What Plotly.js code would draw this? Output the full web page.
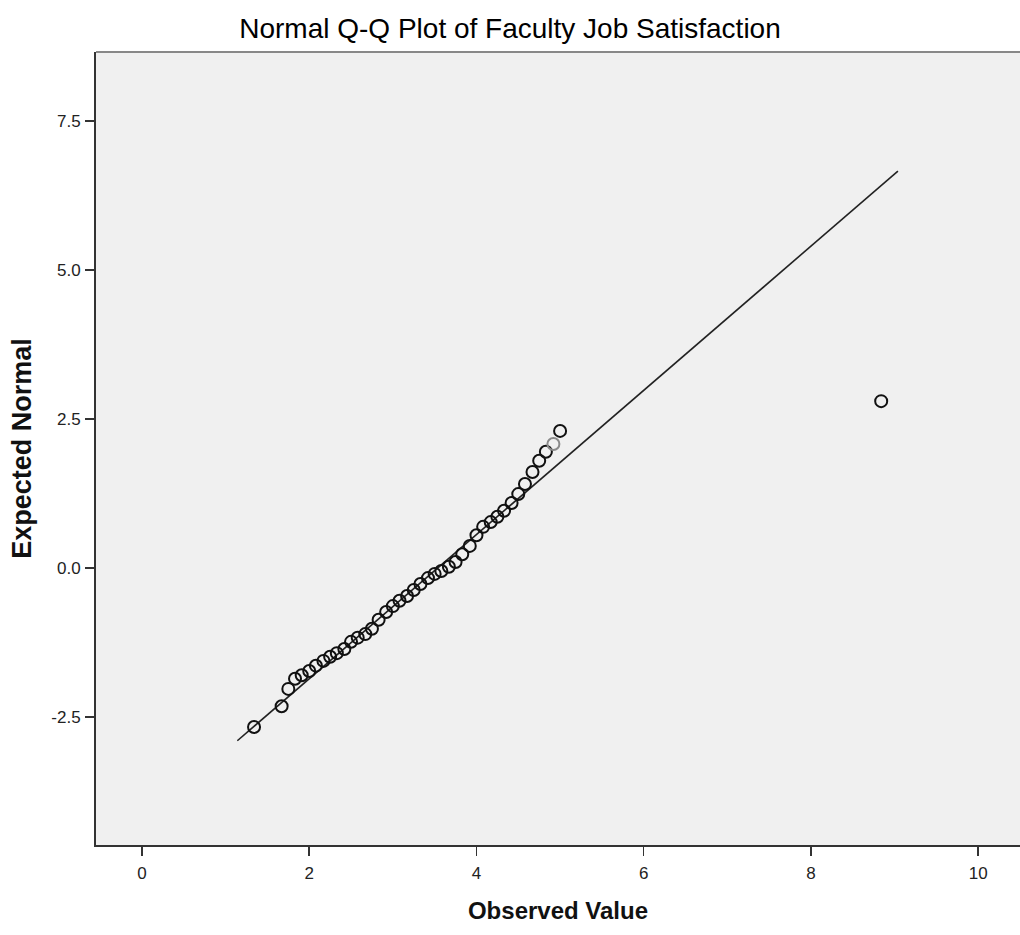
<!DOCTYPE html>
<html>
<head>
<meta charset="utf-8">
<script src="https://cdn.plot.ly/plotly-3.0.1.min.js"></script>
<style>html,body{margin:0;padding:0;background:#fff;}#chart{width:1020px;height:935px;}</style>
</head>
<body>
<div id="chart"></div>
<script>
var observed = [1.34, 1.67, 1.75, 1.83, 1.91, 2.00, 2.08, 2.17, 2.25, 2.33, 2.42, 2.50, 2.58, 2.67, 2.75, 2.83, 2.92, 3.00, 3.08, 3.17, 3.25, 3.33, 3.42, 3.50, 3.58, 3.67, 3.75, 3.83, 3.92, 4.00, 4.08, 4.17, 4.25, 4.33, 4.42, 4.50, 4.58, 4.67, 4.75, 4.83, 4.92, 5.00, 8.84];
var expected = [-2.67, -2.32, -2.03, -1.86, -1.80, -1.73, -1.64, -1.56, -1.49, -1.43, -1.36, -1.24, -1.17, -1.11, -1.02, -0.87, -0.74, -0.64, -0.55, -0.47, -0.37, -0.27, -0.17, -0.10, -0.05, 0.02, 0.10, 0.23, 0.37, 0.55, 0.69, 0.77, 0.86, 0.96, 1.09, 1.24, 1.41, 1.61, 1.80, 1.95, 2.08, 2.30, 2.80];
// Reference line endpoints
var lineX = [1.14, 9.04];
var lineY = [-2.90, 6.66];
var xTicks = [0, 2, 4, 6, 8, 10];
var yTicks = [-2.5, 0.0, 2.5, 5.0, 7.5];

var markerLineColors = observed.map(function(v, i){ return i === 40 ? '#8a8a8a' : '#111'; });

var traces = [
  {x: lineX, y: lineY, mode: 'lines', type: 'scatter', line: {color: '#222', width: 1.6}, hoverinfo: 'skip'},
  {x: observed, y: expected, mode: 'markers', type: 'scatter',
   marker: {symbol: 'circle', size: 12, color: 'rgba(0,0,0,0)', line: {color: markerLineColors, width: 2}}}
];

var fam = '"Liberation Sans Narrow", "Arial Narrow", "Liberation Sans", Arial, sans-serif';
var tickFont = {family: fam, size: 17, color: '#222'};
var layout = {
  width: 1020, height: 935,
  margin: {l: 96, r: 0, t: 52, b: 90},
  paper_bgcolor: '#ffffff',
  plot_bgcolor: '#f0f0f0',
  showlegend: false,
  title: {text: 'Normal Q-Q Plot of Faculty Job Satisfaction', x: 0.5, xanchor: 'center', y: 0.97, yanchor: 'middle',
          font: {family: fam, size: 28, color: '#000'}},
  xaxis: {range: [-0.55, 10.5], tickvals: xTicks, ticktext: xTicks.map(String), showgrid: false, zeroline: false,
          showline: true, linecolor: '#333', linewidth: 2, ticks: 'outside', ticklen: 9, tickwidth: 1.5, tickcolor: '#333',
          tickfont: tickFont, ticklabelstandoff: 3,
          title: {text: 'Observed Value', standoff: 20, font: {family: fam, size: 24, color: '#111', weight: 'bold'}}},
  yaxis: {range: [-4.65, 8.66], tickvals: yTicks, ticktext: yTicks.map(function(v){return v.toFixed(1);}), showgrid: false, zeroline: false,
          showline: true, linecolor: '#333', linewidth: 2, ticks: 'outside', ticklen: 9, tickwidth: 1.5, tickcolor: '#333',
          tickfont: tickFont, ticklabelstandoff: 1,
          title: {text: 'Expected Normal', standoff: 12, font: {family: fam, size: 27, color: '#111', weight: 'bold'}}},
  shapes: [
    {type: 'line', xref: 'paper', yref: 'paper', x0: 0, x1: 1, y0: 1, y1: 1, line: {color: '#888', width: 2}}
  ]
};
Plotly.newPlot('chart', traces, layout, {displayModeBar: false, staticPlot: true});
</script>
</body>
</html>
